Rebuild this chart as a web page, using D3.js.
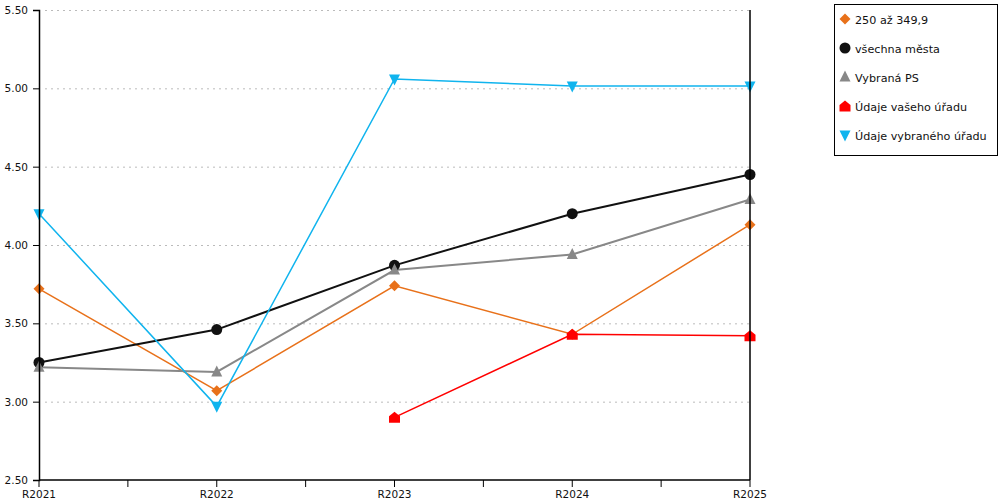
<!DOCTYPE html>
<html><head><meta charset="utf-8">
<script src="https://cdn.jsdelivr.net/npm/d3@7"></script>
<style>body{margin:0;background:#fff}svg{display:block;font-family:"DejaVu Sans",Verdana,sans-serif}</style>
</head><body><svg id="c" width="1000" height="500"></svg>
<script>
const categories = ["R2021","R2022","R2023","R2024","R2025"];
const yTicks = [2.5,3.0,3.5,4.0,4.5,5.0,5.5];
const seriesNames = ["250 až 349,9","všechna města","Vybraná PS","Údaje vašeho úřadu","Údaje vybraného úřadu"];
const valsOrange = [3.72,3.07,3.74,3.43,4.13];
const valsBlack  = [3.25,3.46,3.87,4.20,4.45];
const valsGray   = [3.22,3.19,3.84,3.94,4.29];
const valsRed    = [null,null,2.90,3.43,3.42];
const valsBlue   = [4.20,2.97,5.06,5.015,5.015];
const colors = ["#e8711a","#111111","#888888","#ff0000","#10b4ee"];
const shapes = ["diamond","circle","triUp","house","triDown"];
const widths = [1.5,2,2,1.5,1.5];
const series = [valsOrange,valsBlack,valsGray,valsRed,valsBlue];

const svg = d3.select("#c");
const L=39,R=750,T=10,B=480;
const x = d3.scalePoint().domain(categories).range([L,R]);
const y = d3.scaleLinear().domain([2.5,5.5]).range([B,T]);

// grid
svg.append("g").selectAll("line").data(yTicks.filter(d=>d>2.5)).join("line")
  .attr("x1",L+6).attr("x2",R).attr("y1",d=>y(d)+0.5).attr("y2",d=>y(d)+0.5)
  .attr("stroke","#bbb").attr("stroke-dasharray","2,4");

function marker(sel,shape,color){
  const s=5.5;
  if(shape==="circle") sel.append("circle").attr("r",5.5).attr("fill",color);
  else {
    let p;
    if(shape==="diamond") p=`M0,${-s}L${s},0L0,${s}L${-s},0Z`;
    if(shape==="triUp") p=`M0,${-s-1}L${s},${s-1}L${-s},${s-1}Z`;
    if(shape==="triDown") p=`M${-s},${-s+1}L${s},${-s+1}L0,${s+1}Z`;
    if(shape==="house") p=`M0,${-s}L${s},${-1}L${s},${s}L${-s},${s}L${-s},${-1}Z`;
    sel.append("path").attr("d",p).attr("fill",color);
  }
}

series.forEach((vals,i)=>{
  const pts = vals.map((v,j)=>({c:categories[j],v})).filter(d=>d.v!==null);
  const line = d3.line().x(d=>x(d.c)).y(d=>y(d.v));
  svg.append("path").datum(pts).attr("d",line).attr("fill","none")
    .attr("stroke",colors[i]).attr("stroke-width",widths[i]);
});
series.forEach((vals,i)=>{
  const pts = vals.map((v,j)=>({c:categories[j],v})).filter(d=>d.v!==null);
  pts.forEach(d=>{
    const g=svg.append("g").attr("transform",`translate(${x(d.c)},${y(d.v)})`);
    marker(g,shapes[i],colors[i]);
  });
});

// y axis
const yAxis = d3.axisLeft(y).tickValues(yTicks).tickFormat(d3.format(".2f")).tickSize(6).tickPadding(5);
const gy = svg.append("g").attr("transform",`translate(${L},0)`).call(yAxis);
gy.selectAll("text").attr("font-size",10.5).attr("fill","#111").attr("font-family","DejaVu Sans, Verdana, sans-serif");
gy.select(".domain").attr("stroke","#000").attr("stroke-width",1.5);
gy.selectAll(".tick line").attr("stroke","#000");

// x axis with half-step ticks
const step = x.step();
const halfTicks = [];
for(let i=0;i<categories.length-1;i++) halfTicks.push(x(categories[i])+step/2);
const gx = svg.append("g").attr("transform",`translate(0,${B})`);
gx.append("line").attr("x1",L).attr("x2",R).attr("stroke","#000").attr("stroke-width",1.5);
gx.selectAll("line.t").data(categories.map(c=>x(c)).concat(halfTicks)).join("line").attr("class","t")
  .attr("x1",d=>d).attr("x2",d=>d).attr("y1",0).attr("y2",7).attr("stroke","#000");
gx.selectAll("text").data(categories).join("text")
  .attr("x",d=>x(d)).attr("y",18).attr("text-anchor","middle").attr("font-size",10.5).attr("fill","#111").text(d=>d);

// right border
svg.append("line").attr("x1",R).attr("x2",R).attr("y1",T).attr("y2",B).attr("stroke","#000").attr("stroke-width",1.5);

// legend
const lg = svg.append("g");
lg.append("rect").attr("x",834.5).attr("y",4.5).attr("width",163).attr("height",151).attr("fill","#fff").attr("stroke","#000");
seriesNames.forEach((n,i)=>{
  const yy = 19 + i*29;
  const g = lg.append("g").attr("transform",`translate(845,${yy})`);
  marker(g,shapes[i],colors[i]);
  lg.append("text").attr("x",855).attr("y",yy+4.5).attr("font-size",11.2).attr("fill","#111").text(n);
});
</script></body></html>
